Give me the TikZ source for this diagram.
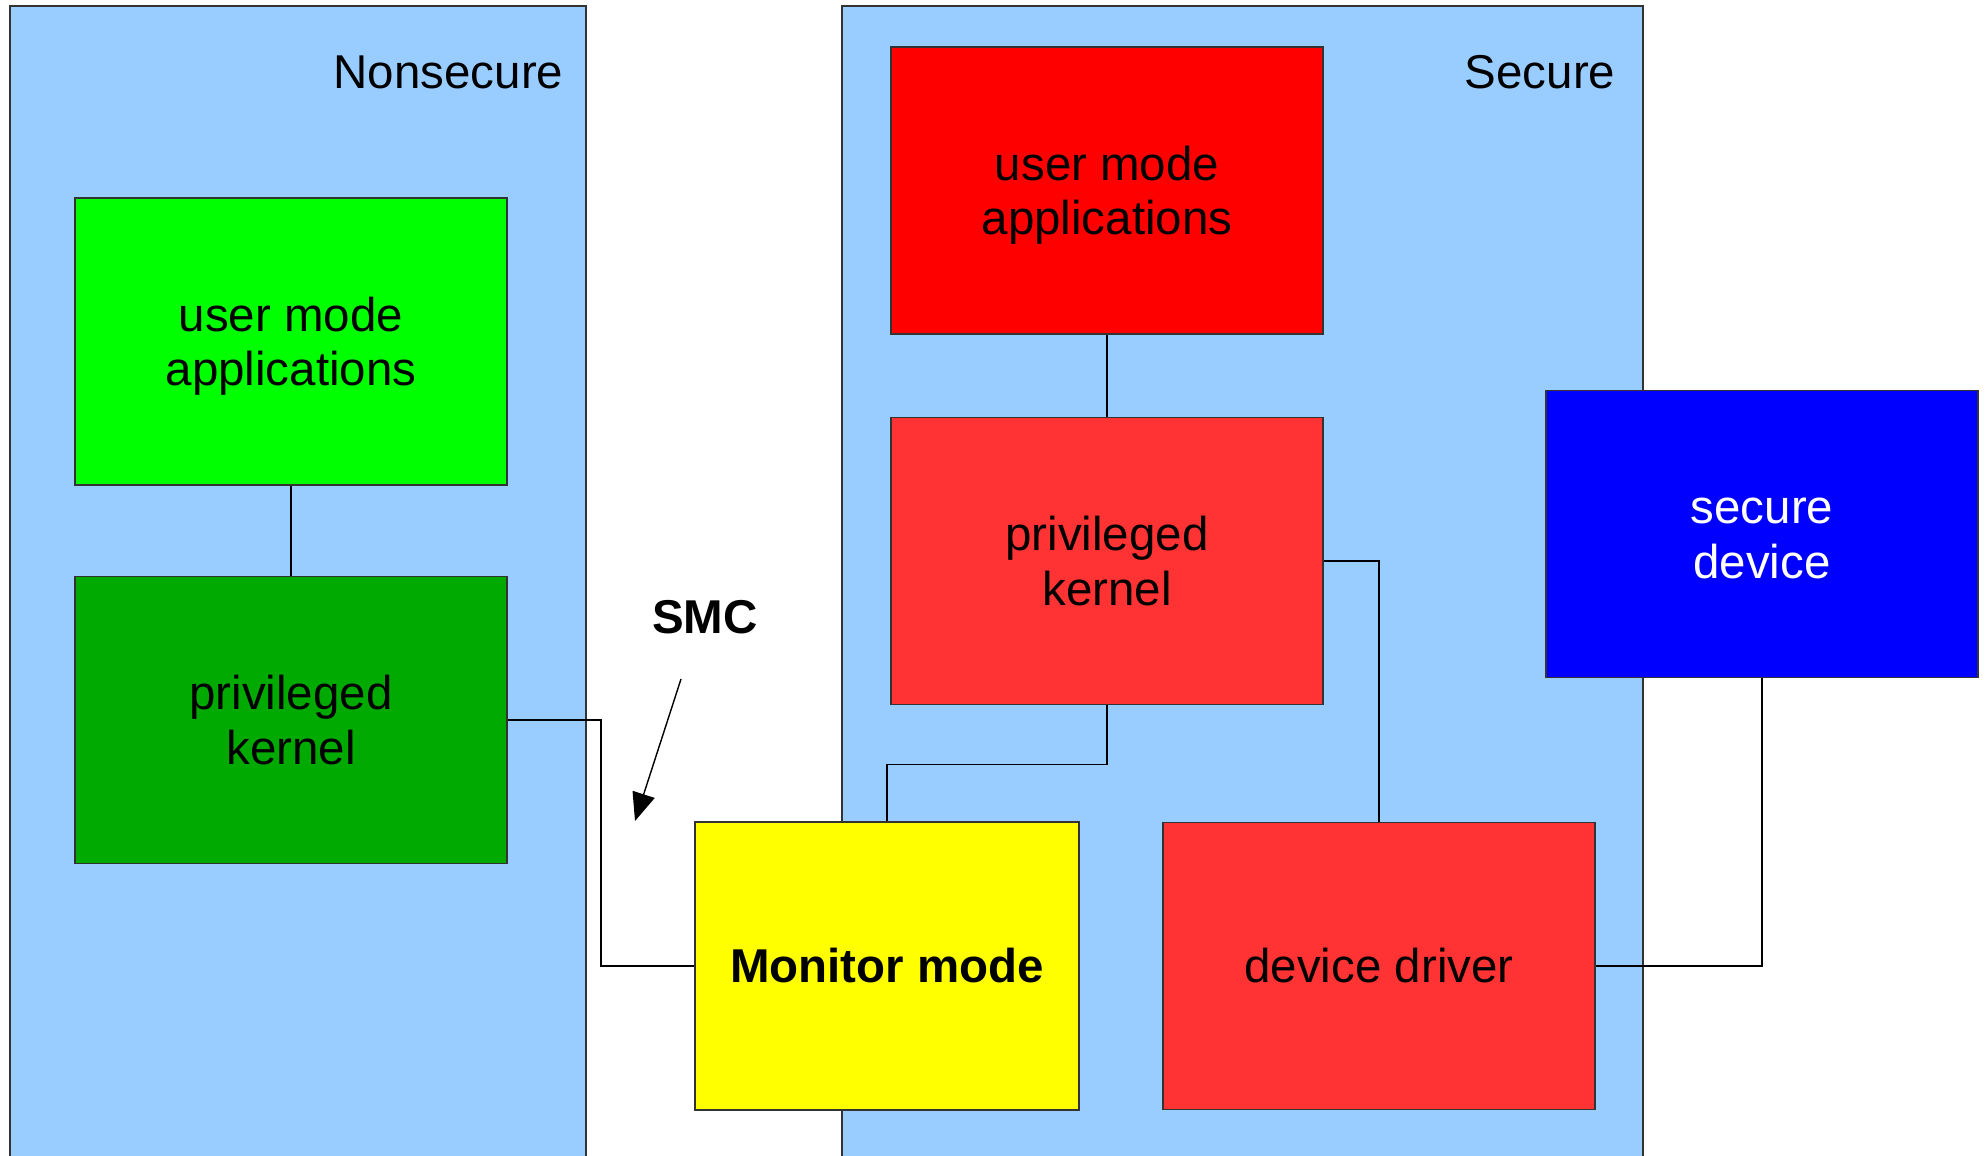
\documentclass[tikz,border=0pt]{standalone}
\usepackage{fontspec}
\setmainfont{Liberation Sans}
\usetikzlibrary{arrows.meta}
\definecolor{lblue}{HTML}{99CCFF}
\definecolor{ngreen}{HTML}{00FF00}
\definecolor{dgreen}{HTML}{00AA00}
\definecolor{nred}{HTML}{FF0000}
\definecolor{lred}{HTML}{FF3333}
\definecolor{nblue}{HTML}{0000FF}
\definecolor{nyellow}{HTML}{FFFF00}
\begin{document}
\begin{tikzpicture}[x=0.01cm,y=-0.01cm,font=\fontsize{13.5}{15.4}\selectfont, panel/.style={draw=black!80,fill=lblue,line width=0.5pt}, box/.style={draw=black!80,line width=0.5pt,minimum width=4.32cm,minimum height=2.87cm,inner sep=0pt,align=center}, gnode/.style={box,fill=ngreen}, dgnode/.style={box,fill=dgreen}, rnode/.style={box,fill=nred}, lrnode/.style={box,fill=lred}, bnode/.style={box,fill=nblue,text=white}, ynode/.style={box,fill=nyellow,minimum width=3.84cm,minimum height=2.88cm}]
	
	\useasboundingbox (0,0) rectangle (1986,1155);
	\clip (0,0) rectangle (1986,1155);
	
	\draw[panel] (10,6) rectangle (586,1170);
	\draw[panel] (842,6) rectangle (1643,1170);
	
	\node[anchor=east,inner sep=0pt] (ns) at (564,72) {Nonsecure};
	\node[anchor=east,inner sep=0pt] (s) at (1616,72) {Secure};
	\node (smc) at (705,617) {\bfseries SMC};
	
	\node[gnode] (1) at (291,341.5) {user mode\\\smash{applications}};
	\node[dgnode] (2) at (291,720) {privileged\\kernel};
	
	\node[rnode] (3) at (1107,190.5) {user mode\\\smash{applications}};
	\node[lrnode] (4) at (1107,561) {privileged\\kernel};
	
	\node[bnode] (5) at (1762,534) {\vphantom{d}secure\\device};
	
	\node[ynode] (6) at (887,966) {\bfseries Monitor mode};
	\node[lrnode] (7) at (1379,966) {device driver};
	
	\coordinate (a) at (681,679);
	\coordinate (b) at (635,821);
	
	\draw (1) -- (2);
	\draw (3) -- (4);
	\draw (2.east) -- ++(93,0) |- (6.west);
	\draw (4.south) -- ++(0,59) -| (6.north);
	\draw (4.east) -| (7.north);
	\draw (7.east) -| (5.south);
	\draw[-{Triangle[length=0.28cm,width=0.23cm]}] (a) -- (b);
	\end{tikzpicture}
\end{document}
